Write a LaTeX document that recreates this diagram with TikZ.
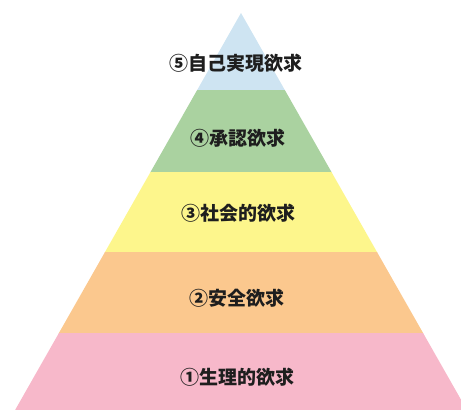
\documentclass[tikz,border=0pt]{standalone}
\usepackage{fontspec}
\newfontfamily\jp{Noto Sans CJK JP}
\definecolor{lvfive}{RGB}{206,228,242}
\definecolor{lvfour}{RGB}{170,210,160}
\definecolor{lvthree}{RGB}{253,246,140}
\definecolor{lvtwo}{RGB}{251,200,142}
\definecolor{lvone}{RGB}{247,184,202}
\definecolor{txt}{RGB}{30,30,30}
\tikzset{
  lbl/.style={font=\jp\bfseries\fontsize{19}{19}\selectfont, text=txt, inner sep=0pt, anchor=center},
}
\begin{document}
\begin{tikzpicture}[x=1pt,y=-1pt]
\useasboundingbox (0,0) rectangle (461,410);
\clip (0,0) rectangle (461,410);
\def\cx{241}
\def\s{0.569}
\def\ap{13}
\newcommand{\myband}[3]{%
  \pgfmathsetmacro{\la}{\cx-\s*(#1-\ap)}%
  \pgfmathsetmacro{\ra}{\cx+\s*(#1-\ap)}%
  \pgfmathsetmacro{\lb}{\cx-\s*(#2-\ap)}%
  \pgfmathsetmacro{\rb}{\cx+\s*(#2-\ap)}%
  \fill[#3] (\la,#1) -- (\ra,#1) -- (\rb,#2) -- (\lb,#2) -- cycle;}
\myband{13}{90.5}{lvfive}
\myband{90}{172.5}{lvfour}
\myband{172}{252.5}{lvthree}
\myband{252}{333.5}{lvtwo}
\myband{333}{410}{lvone}
\node[lbl] (n5) at (236,63) {⑤自己実現欲求};
\node[lbl] (n4) at (238,138) {④承認欲求};
\node[lbl] (n3) at (238,213) {③社会的欲求};
\node[lbl] (n2) at (237,298) {②安全欲求};
\node[lbl] (n1) at (237,377) {①生理的欲求};
\end{tikzpicture}
\end{document}
